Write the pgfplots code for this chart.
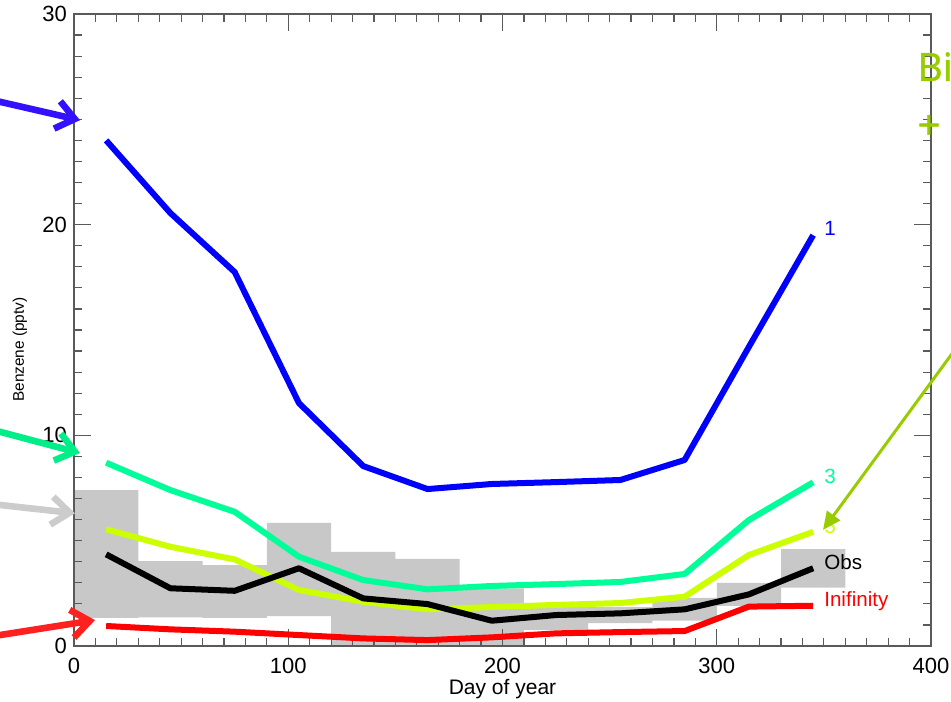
\documentclass[border=0pt]{standalone}
\usepackage{fontspec}
\setmainfont{Liberation Sans}
\newfontfamily\notefont[FakeBold=1.2]{Open Sans}
\usepackage{pgfplots}
\usepackage{pgfplotstable}
\pgfplotsset{compat=1.18}
\usetikzlibrary{arrows.meta}

\definecolor{lblue}{HTML}{0000FF}
\definecolor{lteal}{HTML}{00FF99}
\definecolor{lyell}{HTML}{CCFF00}
\definecolor{lred}{HTML}{FF0000}
\definecolor{boxgray}{HTML}{C8C8C8}
\definecolor{axgray}{HTML}{5A5A5A}
\definecolor{arblue}{HTML}{3311FF}
\definecolor{arteal}{HTML}{00EE88}
\definecolor{argray}{HTML}{CCCCCC}
\definecolor{arred}{HTML}{FF2020}
\definecolor{olive}{HTML}{99CC00}

% monthly mean benzene for the model runs and the observations
\pgfplotstableread{
day  one    three  five  obs   inf
15   24.00  8.70   5.54  4.35  0.95
45   20.55  7.40   4.71  2.74  0.79
75   17.75  6.37   4.11  2.62  0.68
105  11.53  4.24   2.66  3.69  0.52
135   8.54  3.13   2.10  2.26  0.36
165   7.45  2.69   1.74  1.99  0.28
195   7.69  2.85   1.85  1.20  0.41
225   7.78  2.94   1.95  1.47  0.60
255   7.88  3.04   2.04  1.55  0.66
285   8.83  3.42   2.34  1.74  0.71
315  14.20  5.98   4.32  2.45  1.87
345  19.50  7.77   5.42  3.69  1.91
}\runs

% monthly spread of the observations (low and high edge of each box)
\pgfplotstableread{
day  lo    hi
15   1.34  7.40
45   1.36  4.03
75   1.34  3.84
105  1.42  5.85
135  0.00  4.47
165  0.00  4.13
195  0.00  2.74
225  0.76  2.00
255  1.08  1.85
285  1.20  2.28
315  1.90  3.00
345  2.77  4.60
}\spread

\begin{document}
\begin{tikzpicture}
\useasboundingbox (0,0) rectangle (475.5pt,350.5pt);

% observation spread boxes
\begin{axis}[
  at={(37pt,27.5pt)}, anchor=south west,
  scale only axis, width=428.5pt, height=316pt,
  xmin=0, xmax=400, ymin=0, ymax=30,
  axis lines=none,
  ybar stacked, bar width=30, bar shift=0pt,
]
\addplot[draw=none, fill=none] table[x=day, y=lo] {\spread};
\addplot[draw=none, fill=boxgray] table[x=day, y expr=\thisrow{hi}-\thisrow{lo}] {\spread};
\end{axis}

\begin{axis}[
  at={(37pt,27.5pt)}, anchor=south west,
  scale only axis, width=428.5pt, height=316pt,
  xmin=0, xmax=400, ymin=0, ymax=30,
  xtick={0,100,200,300,400}, ytick={0,10,20,30},
  minor x tick num=9, minor y tick num=9,
  tick align=inside,
  major tick length=8.5pt, minor tick length=4pt,
  axis line style={draw=axgray, line width=0.8pt},
  every tick/.style={draw=axgray, line width=0.6pt},
  /pgf/number format/assume math mode=true,
  tick label style={font=\fontsize{11}{13}\selectfont},
  xticklabel style={yshift=-2.5pt},
  xlabel={Day of year},
  ylabel={Benzene (pptv)},
  xlabel style={font=\fontsize{10.5}{12}\selectfont, at={(axis description cs:0.5,-0.068)}, anchor=center},
  ylabel style={font=\fontsize{7.7}{9}\selectfont, at={(axis description cs:-0.063,0.469)}, anchor=center},
  clip=false,
  every axis plot/.append style={line width=3pt, line join=round},
]
\addplot[lblue] table[x=day, y=one] {\runs};
\addplot[lteal] table[x=day, y=three] {\runs};
\addplot[lyell] table[x=day, y=five] {\runs};
\addplot[black] table[x=day, y=obs] {\runs};
\addplot[lred] table[x=day, y=inf] {\runs};

\begin{scope}[font=\fontsize{10.3}{12}\selectfont, inner sep=0pt]
\node[anchor=west, text=lblue] at (axis cs:350,19.84) {1};
\node[anchor=west, text=lteal] at (axis cs:350,8.07) {3};
\node[anchor=west, text=lyell] at (axis cs:350,5.65) {5};
\node[anchor=west, text=black] at (axis cs:350,3.99) {Obs};
\node[anchor=west, text=lred] at (axis cs:350,2.14) {Inifinity};
\end{scope}

% pointers to the first month of each curve
\begin{scope}[line width=3.3pt, line cap=round, line join=round]
\draw[arblue, -{Straight Barb[length=9pt,width=14pt]}] (axis cs:-43.9,26.05) -- (axis cs:2.8,24.96);
\draw[arteal, -{Straight Barb[length=9pt,width=14pt]}] (axis cs:-43.9,10.42) -- (axis cs:2.8,9.16);
\draw[argray, -{Straight Barb[length=9pt,width=14pt]}] (axis cs:-43.9,6.80) -- (axis cs:0.47,6.30);
\draw[arred, -{Straight Barb[length=9pt,width=14pt]}] (axis cs:-43.9,0.37) -- (axis cs:9.8,1.23);
\end{scope}
\draw[olive, line width=1.5pt, -{Triangle[length=9pt,width=8pt]}] (axis cs:432.2,16.99) -- (axis cs:349.6,5.51);

\node[anchor=west, inner sep=0pt, text=olive, font=\notefont\fontsize{19.5}{23}\selectfont] at (axis cs:393.5,27.5) {Bi};
\node[anchor=west, inner sep=0pt, text=olive, font=\notefont\fontsize{20}{23}\selectfont] at (axis cs:393.5,24.63) {+};
\end{axis}
\end{tikzpicture}
\end{document}
